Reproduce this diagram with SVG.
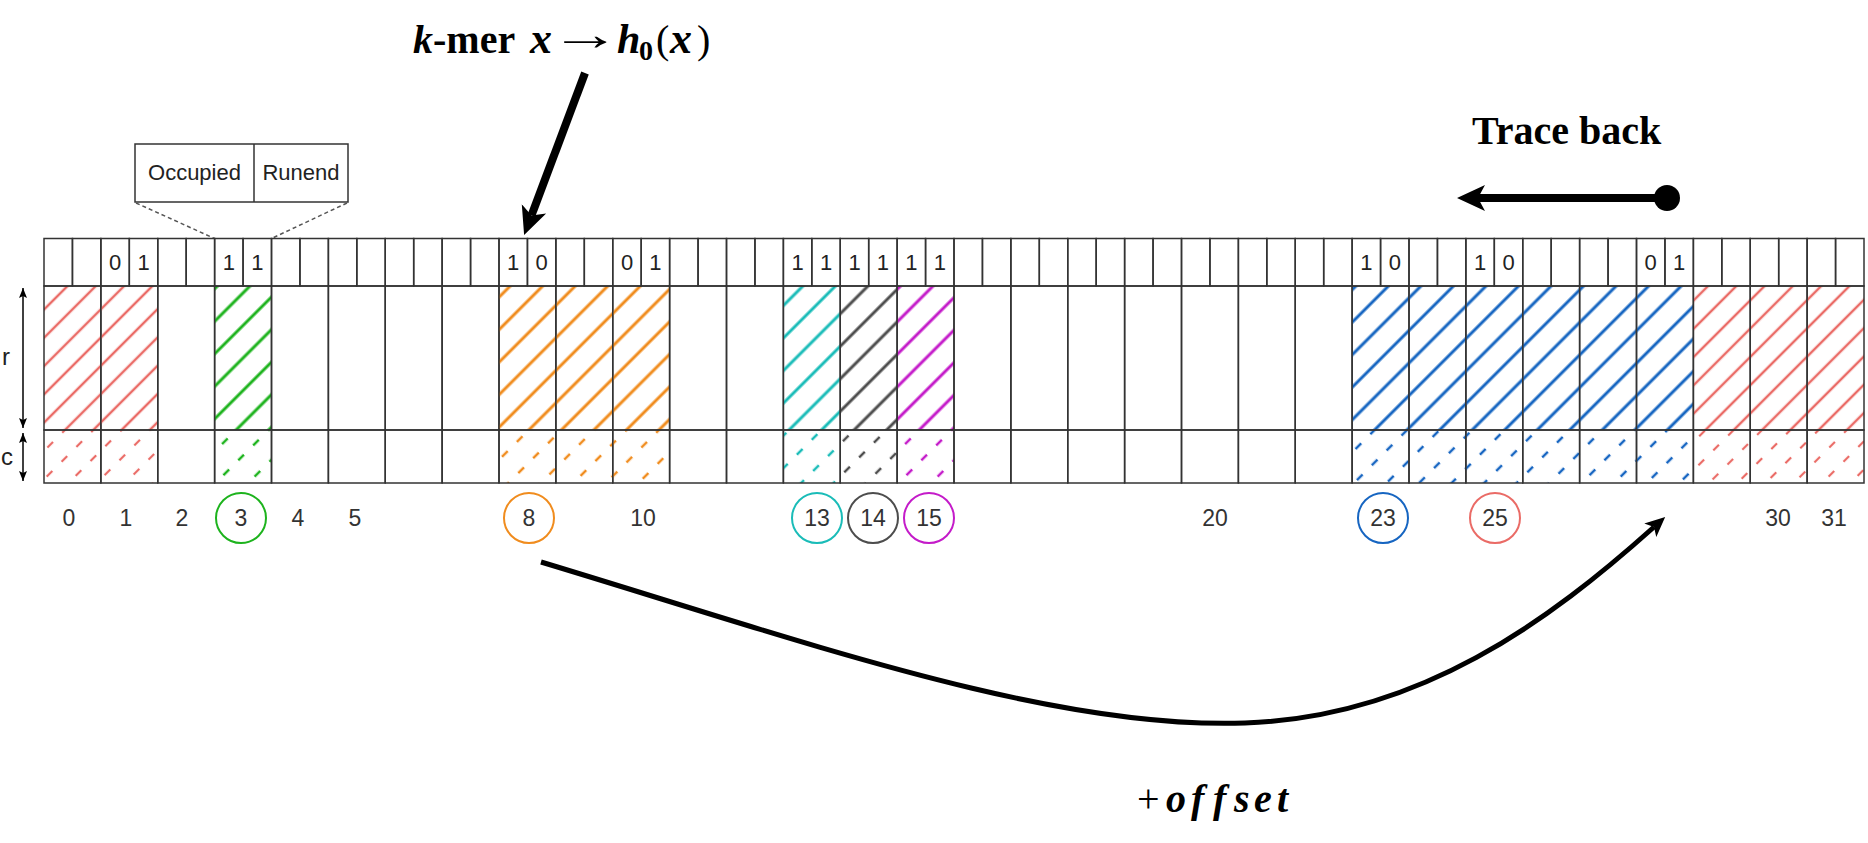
<svg xmlns="http://www.w3.org/2000/svg" width="1868" height="843" viewBox="0 0 1868 843">
<style>
.bit{font-family:"Liberation Sans",Arial,sans-serif;font-size:22px;fill:#222;text-anchor:middle}
.lbl{font-family:"Liberation Sans",Arial,sans-serif;font-size:23px;fill:#333;text-anchor:middle}
.ring{fill:none;stroke-width:2}
.math{font-family:"Liberation Serif","Times New Roman",serif;font-weight:bold;font-size:40px;fill:#000}
.conn{fill:none;stroke:#000}
</style>
<defs>
<pattern id="rRed" patternUnits="userSpaceOnUse" width="20" height="20" patternTransform="rotate(45)"><line x1="10" y1="0" x2="10" y2="20" stroke="#EA6B66" stroke-width="2.5"/></pattern>
<pattern id="cRed" patternUnits="userSpaceOnUse" width="20" height="21" patternTransform="rotate(45)"><line x1="10" y1="2" x2="10" y2="10" stroke="#EA6B66" stroke-width="2.2"/></pattern>
<pattern id="rGreen" patternUnits="userSpaceOnUse" width="23" height="23" patternTransform="rotate(45)"><line x1="11" y1="0" x2="11" y2="23" stroke="#1DB31D" stroke-width="3"/></pattern>
<pattern id="cGreen" patternUnits="userSpaceOnUse" width="23" height="21" patternTransform="rotate(45)"><line x1="11" y1="2" x2="11" y2="10" stroke="#1DB31D" stroke-width="2.5"/></pattern>
<pattern id="rOrange" patternUnits="userSpaceOnUse" width="23" height="23" patternTransform="rotate(45)"><line x1="11" y1="0" x2="11" y2="23" stroke="#F08C1E" stroke-width="3"/></pattern>
<pattern id="cOrange" patternUnits="userSpaceOnUse" width="23" height="21" patternTransform="rotate(45)"><line x1="11" y1="2" x2="11" y2="10" stroke="#F08C1E" stroke-width="2.5"/></pattern>
<pattern id="rCyan" patternUnits="userSpaceOnUse" width="23" height="23" patternTransform="rotate(45)"><line x1="11" y1="0" x2="11" y2="23" stroke="#1ABCB8" stroke-width="3"/></pattern>
<pattern id="cCyan" patternUnits="userSpaceOnUse" width="23" height="21" patternTransform="rotate(45)"><line x1="11" y1="2" x2="11" y2="10" stroke="#1ABCB8" stroke-width="2.5"/></pattern>
<pattern id="rGray" patternUnits="userSpaceOnUse" width="23" height="23" patternTransform="rotate(45)"><line x1="11" y1="0" x2="11" y2="23" stroke="#4D4D4D" stroke-width="3"/></pattern>
<pattern id="cGray" patternUnits="userSpaceOnUse" width="23" height="21" patternTransform="rotate(45)"><line x1="11" y1="2" x2="11" y2="10" stroke="#4D4D4D" stroke-width="2.5"/></pattern>
<pattern id="rMag" patternUnits="userSpaceOnUse" width="23" height="23" patternTransform="rotate(45)"><line x1="11" y1="0" x2="11" y2="23" stroke="#C41BC9" stroke-width="3"/></pattern>
<pattern id="cMag" patternUnits="userSpaceOnUse" width="23" height="21" patternTransform="rotate(45)"><line x1="11" y1="2" x2="11" y2="10" stroke="#C41BC9" stroke-width="2.5"/></pattern>
<pattern id="rBlue" patternUnits="userSpaceOnUse" width="23" height="23" patternTransform="rotate(45)"><line x1="11" y1="0" x2="11" y2="23" stroke="#1665C1" stroke-width="3"/></pattern>
<pattern id="cBlue" patternUnits="userSpaceOnUse" width="23" height="21" patternTransform="rotate(45)"><line x1="11" y1="2" x2="11" y2="10" stroke="#1665C1" stroke-width="2.5"/></pattern>
<g id="cell" fill="none" stroke="#333" stroke-width="1.5">
<rect x="0" y="238.5" width="28.4375" height="47.5"/>
<rect x="28.4375" y="238.5" width="28.4375" height="47.5"/>
<rect x="0" y="286" width="56.875" height="144"/>
<rect x="0" y="430" width="56.875" height="53"/>
</g>
<marker id="ahBig" markerUnits="userSpaceOnUse" viewBox="0 -14 30 28" refX="7" refY="0" markerWidth="30" markerHeight="28" orient="auto"><path d="M0,-13 L28,0 L0,13 L7,0 Z" fill="#000"/></marker>
<marker id="ahCurve" markerUnits="userSpaceOnUse" viewBox="0 -10 22 20" refX="5" refY="0" markerWidth="22" markerHeight="20" orient="auto"><path d="M0,-9 L20,0 L0,9 L5,0 Z" fill="#000"/></marker>
<marker id="ahSmall" markerUnits="userSpaceOnUse" viewBox="0 -5 11 10" refX="10" refY="0" markerWidth="11" markerHeight="10" orient="auto-start-reverse"><path d="M0,-4 L10,0 L0,4 L2,0 Z" fill="#000"/></marker>
</defs>
<rect width="1868" height="843" fill="#fff"/>

<g id="title">
<text class="math" y="53"><tspan x="413" font-style="italic">k</tspan><tspan x="433">-mer</tspan><tspan x="530" font-style="italic" font-size="44">x</tspan><tspan x="617" font-style="italic" font-size="42">h</tspan><tspan x="639" dy="7" font-size="28">0</tspan><tspan x="656" dy="-7" font-weight="normal">(</tspan><tspan x="670" font-style="italic" font-size="44">x</tspan><tspan x="697" font-weight="normal">)</tspan></text>
<text class="math" transform="translate(550,50) scale(1.78,1.15)" font-weight="normal">→</text>
</g>
<g id="trace-back-label"><text class="math" x="1472" y="144">Trace back</text></g>
<g id="offset-label"><text class="math" y="812" font-size="44" font-style="italic"><tspan x="1137" font-style="normal" font-weight="normal">+</tspan><tspan x="1166">o</tspan><tspan x="1191">f</tspan><tspan x="1213">f</tspan><tspan x="1234">s</tspan><tspan x="1254">e</tspan><tspan x="1277">t</tspan></text></g>

<g id="legend">
<rect x="135" y="144" width="213" height="58" fill="#fff" stroke="#333" stroke-width="1.5"/>
<line x1="254" y1="144" x2="254" y2="202" stroke="#333" stroke-width="1.5"/>
<text class="lbl" x="194.5" y="180" style="fill:#222;font-size:22px">Occupied</text>
<text class="lbl" x="301" y="180" style="fill:#222;font-size:22px">Runend</text>
<line x1="136" y1="203" x2="214.6" y2="238.5" stroke="#555" stroke-width="1.5" stroke-dasharray="4 3"/>
<line x1="347" y1="203" x2="271.5" y2="238.5" stroke="#555" stroke-width="1.5" stroke-dasharray="4 3"/>
</g>

<g id="dims">
<line x1="23" y1="288" x2="23" y2="428" stroke="#000" stroke-width="1.5" marker-start="url(#ahSmall)" marker-end="url(#ahSmall)"/>
<line x1="23" y1="433" x2="23" y2="481" stroke="#000" stroke-width="1.5" marker-start="url(#ahSmall)" marker-end="url(#ahSmall)"/>
<text class="lbl" x="6" y="365" style="fill:#222;font-size:24px">r</text>
<text class="lbl" x="7" y="465" style="fill:#222;font-size:24px">c</text>
</g>

<g id="slot-0"><rect x="44" y="286" width="56.875" height="144" fill="url(#rRed)"/><rect x="44" y="430" width="56.875" height="53" fill="url(#cRed)"/><use href="#cell" x="44"/><text class="lbl" x="69" y="526">0</text></g>
<g id="slot-1"><rect x="100.875" y="286" width="56.875" height="144" fill="url(#rRed)"/><rect x="100.875" y="430" width="56.875" height="53" fill="url(#cRed)"/><use href="#cell" x="100.875"/><text class="bit" x="115.1" y="270">0</text><text class="bit" x="143.5" y="270">1</text><text class="lbl" x="126" y="526">1</text></g>
<g id="slot-2"><use href="#cell" x="157.75"/><text class="lbl" x="182" y="526">2</text></g>
<g id="slot-3"><rect x="214.625" y="286" width="56.875" height="144" fill="url(#rGreen)"/><rect x="214.625" y="430" width="56.875" height="53" fill="url(#cGreen)"/><use href="#cell" x="214.625"/><text class="bit" x="228.8" y="270">1</text><text class="bit" x="257.3" y="270">1</text><circle class="ring" cx="241" cy="518" r="25" stroke="#1DB31D"/><text class="lbl" x="241" y="526">3</text></g>
<g id="slot-4"><use href="#cell" x="271.5"/><text class="lbl" x="298" y="526">4</text></g>
<g id="slot-5"><use href="#cell" x="328.375"/><text class="lbl" x="355" y="526">5</text></g>
<g id="slot-6"><use href="#cell" x="385.25"/></g>
<g id="slot-7"><use href="#cell" x="442.125"/></g>
<g id="slot-8"><rect x="499" y="286" width="56.875" height="144" fill="url(#rOrange)"/><rect x="499" y="430" width="56.875" height="53" fill="url(#cOrange)"/><use href="#cell" x="499"/><text class="bit" x="513.2" y="270">1</text><text class="bit" x="541.7" y="270">0</text><circle class="ring" cx="529" cy="518" r="25" stroke="#F08C1E"/><text class="lbl" x="529" y="526">8</text></g>
<g id="slot-9"><rect x="555.875" y="286" width="56.875" height="144" fill="url(#rOrange)"/><rect x="555.875" y="430" width="56.875" height="53" fill="url(#cOrange)"/><use href="#cell" x="555.875"/></g>
<g id="slot-10"><rect x="612.75" y="286" width="56.875" height="144" fill="url(#rOrange)"/><rect x="612.75" y="430" width="56.875" height="53" fill="url(#cOrange)"/><use href="#cell" x="612.75"/><text class="bit" x="627" y="270">0</text><text class="bit" x="655.4" y="270">1</text><text class="lbl" x="643" y="526">10</text></g>
<g id="slot-11"><use href="#cell" x="669.625"/></g>
<g id="slot-12"><use href="#cell" x="726.5"/></g>
<g id="slot-13"><rect x="783.375" y="286" width="56.875" height="144" fill="url(#rCyan)"/><rect x="783.375" y="430" width="56.875" height="53" fill="url(#cCyan)"/><use href="#cell" x="783.375"/><text class="bit" x="797.6" y="270">1</text><text class="bit" x="826" y="270">1</text><circle class="ring" cx="817" cy="518" r="25" stroke="#1ABCB8"/><text class="lbl" x="817" y="526">13</text></g>
<g id="slot-14"><rect x="840.25" y="286" width="56.875" height="144" fill="url(#rGray)"/><rect x="840.25" y="430" width="56.875" height="53" fill="url(#cGray)"/><use href="#cell" x="840.25"/><text class="bit" x="854.5" y="270">1</text><text class="bit" x="882.9" y="270">1</text><circle class="ring" cx="873" cy="518" r="25" stroke="#4D4D4D"/><text class="lbl" x="873" y="526">14</text></g>
<g id="slot-15"><rect x="897.125" y="286" width="56.875" height="144" fill="url(#rMag)"/><rect x="897.125" y="430" width="56.875" height="53" fill="url(#cMag)"/><use href="#cell" x="897.125"/><text class="bit" x="911.3" y="270">1</text><text class="bit" x="939.8" y="270">1</text><circle class="ring" cx="929" cy="518" r="25" stroke="#C41BC9"/><text class="lbl" x="929" y="526">15</text></g>
<g id="slot-16"><use href="#cell" x="954"/></g>
<g id="slot-17"><use href="#cell" x="1010.875"/></g>
<g id="slot-18"><use href="#cell" x="1067.75"/></g>
<g id="slot-19"><use href="#cell" x="1124.625"/></g>
<g id="slot-20"><use href="#cell" x="1181.5"/><text class="lbl" x="1215" y="526">20</text></g>
<g id="slot-21"><use href="#cell" x="1238.375"/></g>
<g id="slot-22"><use href="#cell" x="1295.25"/></g>
<g id="slot-23"><rect x="1352.125" y="286" width="56.875" height="144" fill="url(#rBlue)"/><rect x="1352.125" y="430" width="56.875" height="53" fill="url(#cBlue)"/><use href="#cell" x="1352.125"/><text class="bit" x="1366.3" y="270">1</text><text class="bit" x="1394.8" y="270">0</text><circle class="ring" cx="1383" cy="518" r="25" stroke="#1665C1"/><text class="lbl" x="1383" y="526">23</text></g>
<g id="slot-24"><rect x="1409" y="286" width="56.875" height="144" fill="url(#rBlue)"/><rect x="1409" y="430" width="56.875" height="53" fill="url(#cBlue)"/><use href="#cell" x="1409"/></g>
<g id="slot-25"><rect x="1465.875" y="286" width="56.875" height="144" fill="url(#rBlue)"/><rect x="1465.875" y="430" width="56.875" height="53" fill="url(#cBlue)"/><use href="#cell" x="1465.875"/><text class="bit" x="1480.1" y="270">1</text><text class="bit" x="1508.5" y="270">0</text><circle class="ring" cx="1495" cy="518" r="25" stroke="#EA6B66"/><text class="lbl" x="1495" y="526">25</text></g>
<g id="slot-26"><rect x="1522.75" y="286" width="56.875" height="144" fill="url(#rBlue)"/><rect x="1522.75" y="430" width="56.875" height="53" fill="url(#cBlue)"/><use href="#cell" x="1522.75"/></g>
<g id="slot-27"><rect x="1579.625" y="286" width="56.875" height="144" fill="url(#rBlue)"/><rect x="1579.625" y="430" width="56.875" height="53" fill="url(#cBlue)"/><use href="#cell" x="1579.625"/></g>
<g id="slot-28"><rect x="1636.5" y="286" width="56.875" height="144" fill="url(#rBlue)"/><rect x="1636.5" y="430" width="56.875" height="53" fill="url(#cBlue)"/><use href="#cell" x="1636.5"/><text class="bit" x="1650.7" y="270">0</text><text class="bit" x="1679.2" y="270">1</text></g>
<g id="slot-29"><rect x="1693.375" y="286" width="56.875" height="144" fill="url(#rRed)"/><rect x="1693.375" y="430" width="56.875" height="53" fill="url(#cRed)"/><use href="#cell" x="1693.375"/></g>
<g id="slot-30"><rect x="1750.25" y="286" width="56.875" height="144" fill="url(#rRed)"/><rect x="1750.25" y="430" width="56.875" height="53" fill="url(#cRed)"/><use href="#cell" x="1750.25"/><text class="lbl" x="1778" y="526">30</text></g>
<g id="slot-31"><rect x="1807.125" y="286" width="56.875" height="144" fill="url(#rRed)"/><rect x="1807.125" y="430" width="56.875" height="53" fill="url(#cRed)"/><use href="#cell" x="1807.125"/><text class="lbl" x="1834" y="526">31</text></g>

<g id="connectors">
<path class="conn" d="M585,73 L531.5,215.4" stroke-width="8" marker-end="url(#ahBig)"/>
<path class="conn" d="M1667,198 L1478,198" stroke-width="8" marker-end="url(#ahBig)"/>
<circle cx="1667" cy="198" r="13" fill="#000"/>
<path class="conn" d="M541,562 C800,640 1050,730 1245,723 C1420,717 1550,620 1654,527" stroke-width="5" marker-end="url(#ahCurve)"/>
</g>
</svg>
